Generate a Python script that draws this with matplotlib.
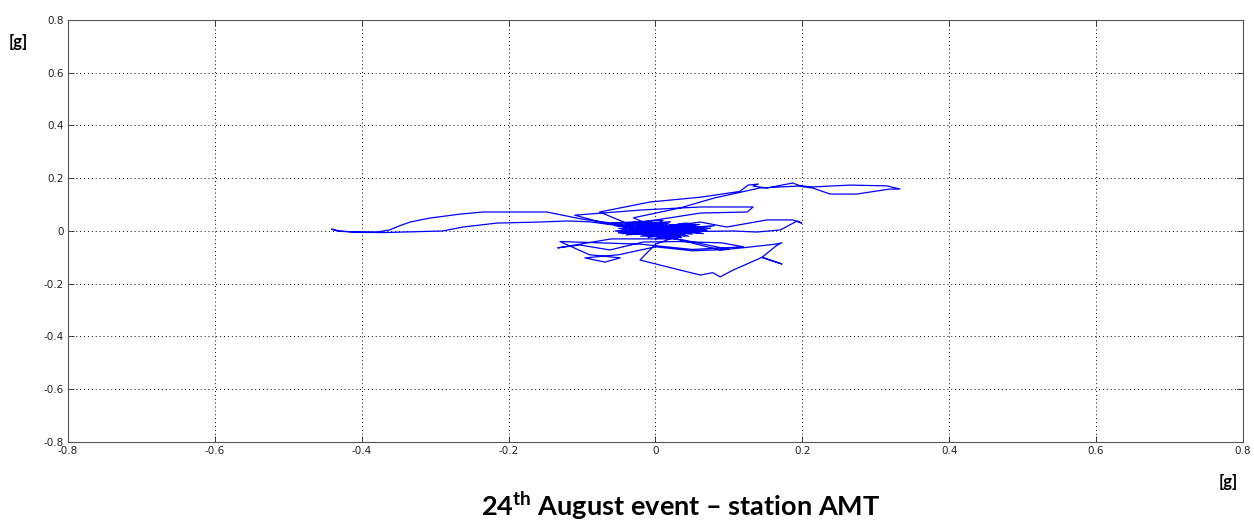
import numpy as np
import matplotlib.pyplot as plt

plt.rcParams['mathtext.fontset'] = 'custom'
plt.rcParams['mathtext.rm'] = 'Lato:bold'
plt.rcParams['mathtext.bf'] = 'Lato:bold'

# particle motion path, piece by piece, (x, y) in g
cluster_1 = [(0.00, 0.00), (0.03, 0.012), (-0.02, -0.008), (0.045, 0.02), (-0.035, 0.01),
             (0.05, -0.012), (-0.015, 0.028), (0.025, -0.02), (-0.045, 0.005), (0.06, 0.015),
             (-0.01, -0.025), (0.02, 0.035), (-0.055, 0.02), (0.04, -0.015), (-0.03, 0.03),
             (0.07, 0.002), (-0.02, -0.012), (0.01, 0.04), (-0.06, 0.03), (0.035, -0.018),
             (-0.025, 0.024), (0.055, 0.01), (-0.05, -0.008), (0.015, 0.03), (-0.06, 0.03)]
left_loop = [(-0.1, 0.045), (-0.148, 0.072), (-0.19, 0.072), (-0.235, 0.072), (-0.266, 0.064),
             (-0.307, 0.049), (-0.334, 0.034), (-0.35, 0.018), (-0.362, 0.004), (-0.379, -0.004),
             (-0.41, -0.004), (-0.43, 0.0), (-0.441, 0.007), (-0.432, -0.001), (-0.40, -0.005),
             (-0.37, -0.006), (-0.33, -0.003), (-0.29, 0.0), (-0.262, 0.015), (-0.216, 0.03),
             (-0.157, 0.034), (-0.12, 0.038), (-0.09, 0.035), (-0.05, 0.02)]
cluster_2 = [(0.03, -0.01), (-0.04, 0.015), (0.055, 0.025), (0.0, -0.03), (0.065, 0.01),
             (-0.025, 0.02), (0.035, -0.025), (-0.05, -0.005), (0.08, 0.02), (0.01, -0.015),
             (-0.03, 0.035), (0.05, 0.0), (-0.045, 0.02), (0.04, -0.02), (-0.015, 0.028),
             (0.06, -0.008), (-0.035, 0.012), (0.025, -0.022), (-0.02, 0.005), (0.045, 0.03),
             (-0.005, -0.02), (0.035, 0.008), (-0.03, -0.012), (0.02, 0.018)]
right_mid = [(0.061, 0.034), (0.097, 0.015), (0.152, 0.042), (0.187, 0.042), (0.199, 0.030),
             (0.193, 0.038), (0.170, 0.004), (0.138, -0.004), (0.106, 0.0), (0.047, -0.002),
             (-0.02, 0.01), (-0.07, 0.03), (-0.11, 0.06), (-0.017, 0.08), (0.061, 0.091),
             (0.133, 0.091), (0.125, 0.072), (0.061, 0.068), (0.02, 0.05)]
cluster_3 = [(-0.04, 0.025), (0.045, -0.02), (-0.01, 0.03), (0.06, -0.005), (-0.055, 0.0),
             (0.03, 0.02), (-0.02, -0.02), (0.075, 0.01), (-0.04, -0.015), (0.05, 0.025),
             (-0.025, 0.015), (0.065, -0.01), (0.0, 0.03), (0.035, -0.025), (-0.05, 0.01),
             (0.045, 0.02), (-0.015, -0.01), (0.03, 0.005), (-0.01, 0.015), (0.02, -0.012)]
lower_right = [(0.02, -0.03), (0.0, -0.05), (-0.021, -0.11), (0.016, -0.136), (0.061, -0.167),
               (0.078, -0.158), (0.088, -0.174), (0.106, -0.148), (0.145, -0.10), (0.172, -0.125),
               (0.145, -0.10), (0.165, -0.055), (0.172, -0.045), (0.163, -0.05), (0.118, -0.064),
               (0.088, -0.072), (0.033, -0.034)]
cluster_4 = [(-0.03, 0.01), (0.05, 0.015), (-0.01, -0.02), (0.04, 0.03), (-0.045, -0.01),
             (0.02, 0.022), (-0.035, -0.005), (0.055, 0.018), (-0.015, -0.018), (0.03, -0.03)]
lower_left = [(-0.06, -0.03), (-0.133, -0.064), (-0.103, -0.053), (-0.062, -0.072),
              (-0.017, -0.042), (0.03, -0.04), (0.09, -0.045), (0.12, -0.06), (0.05, -0.07),
              (-0.02, -0.05), (-0.13, -0.04), (-0.09, -0.09), (-0.048, -0.102), (-0.069, -0.118),
              (-0.096, -0.102), (-0.05, -0.09), (0.0, -0.06), (0.05, -0.075), (0.1, -0.07),
              (0.04, -0.035)]
cluster_5 = [(-0.02, -0.01), (0.03, 0.02), (-0.04, -0.01), (0.06, 0.025), (-0.01, -0.015),
             (0.045, 0.015), (-0.03, 0.015), (0.0, 0.01), (-0.04, 0.03)]
upper_right = [(-0.076, 0.072), (-0.007, 0.11), (0.061, 0.128), (0.115, 0.15), (0.126, 0.174),
               (0.14, 0.178), (0.133, 0.17), (0.152, 0.163), (0.187, 0.182), (0.2, 0.168),
               (0.214, 0.163), (0.238, 0.14), (0.274, 0.14), (0.319, 0.159), (0.333, 0.159),
               (0.315, 0.171), (0.265, 0.174), (0.214, 0.167), (0.199, 0.171), (0.142, 0.163),
               (0.08, 0.125), (0.033, 0.087), (-0.03, 0.05), (0.02, -0.01), (-0.02, 0.01),
               (0.01, 0.0), (0.0, 0.0)]

ticks = [-0.8, -0.6, -0.4, -0.2, 0, 0.2, 0.4, 0.6, 0.8]
tick_labels = ['-0.8', '-0.6', '-0.4', '-0.2', '0', '0.2', '0.4', '0.6', '0.8']

path = np.array(cluster_1 + left_loop + cluster_2 + right_mid + cluster_3 + lower_right
                + cluster_4 + lower_left + cluster_5 + upper_right)

fig = plt.figure(figsize=(12.54, 5.22), dpi=100)
ax = fig.add_axes([0.0542, 0.1533, 0.9370, 0.8084])

ax.plot(path[:, 0], path[:, 1], color=(0, 0, 1), linewidth=0.9)

ax.set_xlim(-0.8, 0.8)
ax.set_ylim(-0.8, 0.8)
ax.set_xticks(ticks)
ax.set_yticks(ticks)
ax.set_xticklabels(tick_labels)
ax.set_yticklabels(tick_labels)
ax.tick_params(direction='in', length=4, width=0.6, labelsize=7.5, colors='#222222',
               top=True, right=True, pad=3)
ax.grid(True, linestyle=(0, (1, 3)), color='black', linewidth=0.7)
for s in ax.spines.values():
    s.set_color('#555555')
    s.set_linewidth(0.8)

# axis unit labels and caption
fig.text(18 / 1254, 1 - 42 / 522, '[g]', fontsize=12, fontweight='bold', family='Lato',
         ha='center', va='center')
fig.text(1228 / 1254, 1 - 482 / 522, '[g]', fontsize=12, fontweight='bold', family='Lato',
         ha='center', va='center')
fig.text(0.5425, 1 - 506 / 522, r'24$^{\mathrm{th}}$ August event – station AMT',
         fontsize=19.5, fontweight='bold', family='Lato', ha='center', va='center')

fig.savefig('out.png', dpi=100)
